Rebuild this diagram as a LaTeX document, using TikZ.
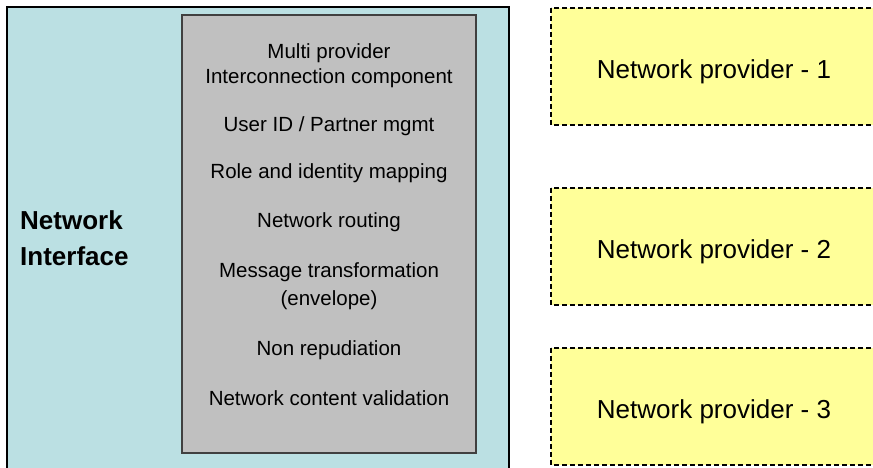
\documentclass[tikz,border=0pt]{standalone}
\usepackage{fontspec}
\setmainfont{Liberation Sans}
\definecolor{ifblue}{RGB}{187,224,227}
\definecolor{compgray}{RGB}{192,192,192}
\definecolor{provyellow}{RGB}{255,255,153}
\begin{document}
\begin{tikzpicture}[x=1pt,y=-1pt,
  compline/.style={anchor=base,font=\fontsize{20.5}{24}\selectfont,inner sep=0pt},
  provbox/.style={draw=black,fill=provyellow,line width=1.8pt,dash pattern=on 5pt off 3pt},
  provtext/.style={anchor=base,font=\fontsize{26}{30}\selectfont,inner sep=0pt},
  titletext/.style={anchor=base west,font=\fontsize{26}{30}\selectfont\bfseries,inner sep=0pt}]
\useasboundingbox (0,0) rectangle (873,467);
\clip (0,0) rectangle (873,467);
\fill[white] (0,0) rectangle (873,467);
% interface box
\draw[fill=ifblue,line width=1.5pt] (7,7) rectangle (509,480);
\draw[fill=compgray,draw=black!75,line width=1.5pt] (182,15) rectangle (476,453);
\node[titletext] (t1) at (20,229) {Network};
\node[titletext] (t2) at (20,265) {Interface};
\node[compline] (c1) at (329,58) {Multi provider};
\node[compline] (c2) at (329,83) {Interconnection component};
\node[compline] (c3) at (329,131) {User ID / Partner mgmt};
\node[compline] (c4) at (329,178) {Role and identity mapping};
\node[compline] (c5) at (329,227) {Network routing};
\node[compline] (c6) at (329,277) {Message transformation};
\node[compline] (c7) at (329,305) {(envelope)};
\node[compline] (c8) at (329,355) {Non repudiation};
\node[compline] (c9) at (329,405) {Network content validation};
% providers
\draw[provbox] (551,8) rectangle (890,125);
\draw[provbox] (551,188) rectangle (890,305);
\draw[provbox] (551,348) rectangle (890,465);
\node[provtext] (p1) at (714,78) {Network provider - 1};
\node[provtext] (p2) at (714,258) {Network provider - 2};
\node[provtext] (p3) at (714,418) {Network provider - 3};
\end{tikzpicture}
\end{document}
